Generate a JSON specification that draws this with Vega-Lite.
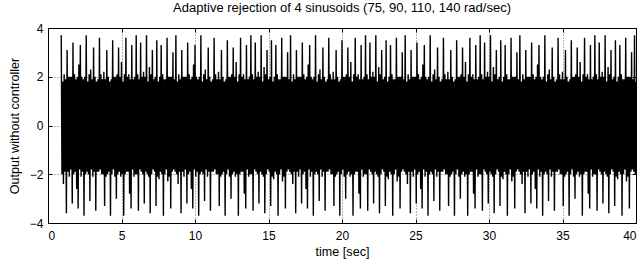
{
"$schema": "https://vega.github.io/schema/vega-lite/v6.json",
"width": 588, "height": 195,
"autosize": {"type": "none"},
"padding": {"left": 48, "top": 28, "right": 1, "bottom": 37},
"background": "white",
"title": {"text": "Adaptive rejection of 4 sinusoids (75, 90, 110, 140 rad/sec)", "font": "Liberation Sans", "fontSize": 13, "fontWeight": "normal", "color": "black", "offset": 7},
"config": {
  "view": {"stroke": "black", "strokeWidth": 1},
  "axis": {"labelFont": "Liberation Sans", "titleFont": "Liberation Sans", "labelFontSize": 12, "titleFontSize": 12.6, "titleFontWeight": "normal", "labelColor": "black", "titleColor": "black", "domain": false, "tickColor": "black", "tickSize": -4, "labelPadding": 9, "gridColor": "black", "gridDash": [1, 2], "gridOpacity": 0.6}
},
"data": {"values": [
{"t":0.9,"y":3.7},{"t":0.95,"y":-2},{"t":1,"y":1.8},{"t":1.05,"y":-2.4},{"t":1.1,"y":2.1},{"t":1.15,"y":-1.9},{"t":1.2,"y":1.9},{"t":1.25,"y":-3.6},{"t":1.3,"y":3.1},{"t":1.35,"y":-1.9},{"t":1.4,"y":2},{"t":1.45,"y":-2.1},{"t":1.5,"y":2},{"t":1.55,"y":-1.8},{"t":1.6,"y":2},{"t":1.65,"y":-3.2},{"t":1.7,"y":3.4},{"t":1.75,"y":-2},{"t":1.8,"y":2.1},{"t":1.85,"y":-1.9},{"t":1.9,"y":1.9},{"t":1.95,"y":-2.6},{"t":2,"y":2},{"t":2.05,"y":-3.4},{"t":2.1,"y":2.5},{"t":2.15,"y":-1.8},
{"t":2.2,"y":3.3},{"t":2.25,"y":-2.1},{"t":2.3,"y":2},{"t":2.35,"y":-1.9},{"t":2.4,"y":1.9},{"t":2.45,"y":-3.7},{"t":2.5,"y":2},{"t":2.55,"y":-2},{"t":2.6,"y":3.7},{"t":2.65,"y":-1.9},{"t":2.7,"y":1.8},{"t":2.75,"y":-2},{"t":2.8,"y":2.1},{"t":2.85,"y":-3.1},{"t":2.9,"y":2.3},{"t":2.95,"y":-1.8},{"t":3,"y":1.9},{"t":3.05,"y":-2.1},{"t":3.1,"y":3.2},{"t":3.15,"y":-1.9},{"t":3.2,"y":2},{"t":3.25,"y":-3.5},{"t":3.3,"y":1.8},{"t":3.35,"y":-1.9},{"t":3.4,"y":1.9},{"t":3.45,"y":-1.9},
{"t":3.5,"y":3.6},{"t":3.55,"y":-1.8},{"t":3.6,"y":2.1},{"t":3.65,"y":-2},{"t":3.7,"y":1.9},{"t":3.75,"y":-2},{"t":3.8,"y":2.2},{"t":3.85,"y":-3.3},{"t":3.9,"y":1.9},{"t":3.95,"y":-2.1},{"t":4,"y":3.1},{"t":4.05,"y":-2},{"t":4.1,"y":2},{"t":4.15,"y":-1.9},{"t":4.2,"y":1.8},{"t":4.25,"y":-3.7},{"t":4.3,"y":1.9},{"t":4.35,"y":-2},{"t":4.4,"y":3.5},{"t":4.45,"y":-1.8},{"t":4.5,"y":2},{"t":4.55,"y":-2.1},{"t":4.6,"y":2},{"t":4.65,"y":-3},{"t":4.7,"y":2.1},{"t":4.75,"y":-2},
{"t":4.8,"y":3.2},{"t":4.85,"y":-1.9},{"t":4.9,"y":2},{"t":4.95,"y":-2.1},{"t":5,"y":2.6},{"t":5.05,"y":-2},{"t":5.1,"y":1.8},{"t":5.15,"y":-3.7},{"t":5.2,"y":2.1},{"t":5.25,"y":-2},{"t":5.3,"y":3.6},{"t":5.35,"y":-1.9},{"t":5.4,"y":2},{"t":5.45,"y":-1.9},{"t":5.5,"y":2.1},{"t":5.55,"y":-2.8},{"t":5.6,"y":1.9},{"t":5.65,"y":-3.4},{"t":5.7,"y":3.3},{"t":5.75,"y":-1.8},{"t":5.8,"y":1.9},{"t":5.85,"y":-2.1},{"t":5.9,"y":2},{"t":5.95,"y":-2},{"t":6,"y":3.7},{"t":6.05,"y":-2},
{"t":6.1,"y":2.1},{"t":6.15,"y":-3.5},{"t":6.2,"y":1.9},{"t":6.25,"y":-1.8},{"t":6.3,"y":3.4},{"t":6.35,"y":-1.9},{"t":6.4,"y":2},{"t":6.45,"y":-2},{"t":6.5,"y":2.2},{"t":6.55,"y":-3.2},{"t":6.6,"y":2},{"t":6.65,"y":-1.9},{"t":6.7,"y":3.7},{"t":6.75,"y":-2},{"t":6.8,"y":1.8},{"t":6.85,"y":-2.1},{"t":6.9,"y":2.4},{"t":6.95,"y":-3.6},{"t":7,"y":2.1},{"t":7.05,"y":-2},{"t":7.1,"y":3.1},{"t":7.15,"y":-1.8},{"t":7.2,"y":1.9},{"t":7.25,"y":-1.9},{"t":7.3,"y":2},{"t":7.35,"y":-3.3},
{"t":7.4,"y":3.5},{"t":7.45,"y":-2.1},{"t":7.5,"y":1.8},{"t":7.55,"y":-2.2},{"t":7.6,"y":2},{"t":7.65,"y":-1.9},{"t":7.7,"y":3.3},{"t":7.75,"y":-2},{"t":7.8,"y":2.1},{"t":7.85,"y":-3.7},{"t":7.9,"y":1.9},{"t":7.95,"y":-2},{"t":8,"y":1.9},{"t":8.05,"y":-1.8},{"t":8.1,"y":3.6},{"t":8.15,"y":-2.3},{"t":8.2,"y":2},{"t":8.25,"y":-2.1},{"t":8.3,"y":2},{"t":8.35,"y":-3.4},{"t":8.4,"y":2},{"t":8.45,"y":-1.9},{"t":8.5,"y":3},{"t":8.55,"y":-1.8},{"t":8.6,"y":1.9},{"t":8.65,"y":-1.9},
{"t":8.7,"y":3.7},{"t":8.75,"y":-2},{"t":8.8,"y":1.8},{"t":8.85,"y":-2.4},{"t":8.9,"y":2.1},{"t":8.95,"y":-1.9},{"t":9,"y":1.9},{"t":9.05,"y":-3.6},{"t":9.1,"y":3.1},{"t":9.15,"y":-1.9},{"t":9.2,"y":2},{"t":9.25,"y":-2.1},{"t":9.3,"y":2},{"t":9.35,"y":-1.8},{"t":9.4,"y":2},{"t":9.45,"y":-3.2},{"t":9.5,"y":3.4},{"t":9.55,"y":-2},{"t":9.6,"y":2.1},{"t":9.65,"y":-1.9},{"t":9.7,"y":1.9},{"t":9.75,"y":-2.6},{"t":9.8,"y":2},{"t":9.85,"y":-3.4},{"t":9.9,"y":2.5},{"t":9.95,"y":-1.8},
{"t":10,"y":3.3},{"t":10.05,"y":-2.1},{"t":10.1,"y":2},{"t":10.15,"y":-1.9},{"t":10.2,"y":1.9},{"t":10.25,"y":-3.7},{"t":10.3,"y":2},{"t":10.35,"y":-2},{"t":10.4,"y":3.7},{"t":10.45,"y":-1.9},{"t":10.5,"y":1.8},{"t":10.55,"y":-2},{"t":10.6,"y":2.1},{"t":10.65,"y":-3.1},{"t":10.7,"y":2.3},{"t":10.75,"y":-1.8},{"t":10.8,"y":1.9},{"t":10.85,"y":-2.1},{"t":10.9,"y":3.2},{"t":10.95,"y":-1.9},{"t":11,"y":2},{"t":11.05,"y":-3.5},{"t":11.1,"y":1.8},{"t":11.15,"y":-1.9},{"t":11.2,"y":1.9},{"t":11.25,"y":-1.9},
{"t":11.3,"y":3.6},{"t":11.35,"y":-1.8},{"t":11.4,"y":2.1},{"t":11.45,"y":-2},{"t":11.5,"y":1.9},{"t":11.55,"y":-2},{"t":11.6,"y":2.2},{"t":11.65,"y":-3.3},{"t":11.7,"y":1.9},{"t":11.75,"y":-2.1},{"t":11.8,"y":3.1},{"t":11.85,"y":-2},{"t":11.9,"y":2},{"t":11.95,"y":-1.9},{"t":12,"y":1.8},{"t":12.05,"y":-3.7},{"t":12.1,"y":1.9},{"t":12.15,"y":-2},{"t":12.2,"y":3.5},{"t":12.25,"y":-1.8},{"t":12.3,"y":2},{"t":12.35,"y":-2.1},{"t":12.4,"y":2},{"t":12.45,"y":-3},{"t":12.5,"y":2.1},{"t":12.55,"y":-2},
{"t":12.6,"y":3.2},{"t":12.65,"y":-1.9},{"t":12.7,"y":2},{"t":12.75,"y":-2.1},{"t":12.8,"y":2.6},{"t":12.85,"y":-2},{"t":12.9,"y":1.8},{"t":12.95,"y":-3.7},{"t":13,"y":2.1},{"t":13.05,"y":-2},{"t":13.1,"y":3.6},{"t":13.15,"y":-1.9},{"t":13.2,"y":2},{"t":13.25,"y":-1.9},{"t":13.3,"y":2.1},{"t":13.35,"y":-2.8},{"t":13.4,"y":1.9},{"t":13.45,"y":-3.4},{"t":13.5,"y":3.3},{"t":13.55,"y":-1.8},{"t":13.6,"y":1.9},{"t":13.65,"y":-2.1},{"t":13.7,"y":2},{"t":13.75,"y":-2},{"t":13.8,"y":3.7},{"t":13.85,"y":-2},
{"t":13.9,"y":2.1},{"t":13.95,"y":-3.5},{"t":14,"y":1.9},{"t":14.05,"y":-1.8},{"t":14.1,"y":3.4},{"t":14.15,"y":-1.9},{"t":14.2,"y":2},{"t":14.25,"y":-2},{"t":14.3,"y":2.2},{"t":14.35,"y":-3.2},{"t":14.4,"y":2},{"t":14.45,"y":-1.9},{"t":14.5,"y":3.7},{"t":14.55,"y":-2},{"t":14.6,"y":1.8},{"t":14.65,"y":-2.1},{"t":14.7,"y":2.4},{"t":14.75,"y":-3.6},{"t":14.8,"y":2.1},{"t":14.85,"y":-2},{"t":14.9,"y":3.1},{"t":14.95,"y":-1.8},{"t":15,"y":1.9},{"t":15.05,"y":-1.9},{"t":15.1,"y":2},{"t":15.15,"y":-3.3},
{"t":15.2,"y":3.5},{"t":15.25,"y":-2.1},{"t":15.3,"y":1.8},{"t":15.35,"y":-2.2},{"t":15.4,"y":2},{"t":15.45,"y":-1.9},{"t":15.5,"y":3.3},{"t":15.55,"y":-2},{"t":15.6,"y":2.1},{"t":15.65,"y":-3.7},{"t":15.7,"y":1.9},{"t":15.75,"y":-2},{"t":15.8,"y":1.9},{"t":15.85,"y":-1.8},{"t":15.9,"y":3.6},{"t":15.95,"y":-2.3},{"t":16,"y":2},{"t":16.05,"y":-2.1},{"t":16.1,"y":2},{"t":16.15,"y":-3.4},{"t":16.2,"y":2},{"t":16.25,"y":-1.9},{"t":16.3,"y":3},{"t":16.35,"y":-1.8},{"t":16.4,"y":1.9},{"t":16.45,"y":-1.9},
{"t":16.5,"y":3.7},{"t":16.55,"y":-2},{"t":16.6,"y":1.8},{"t":16.65,"y":-2.4},{"t":16.7,"y":2.1},{"t":16.75,"y":-1.9},{"t":16.8,"y":1.9},{"t":16.85,"y":-3.6},{"t":16.9,"y":3.1},{"t":16.95,"y":-1.9},{"t":17,"y":2},{"t":17.05,"y":-2.1},{"t":17.1,"y":2},{"t":17.15,"y":-1.8},{"t":17.2,"y":2},{"t":17.25,"y":-3.2},{"t":17.3,"y":3.4},{"t":17.35,"y":-2},{"t":17.4,"y":2.1},{"t":17.45,"y":-1.9},{"t":17.5,"y":1.9},{"t":17.55,"y":-2.6},{"t":17.6,"y":2},{"t":17.65,"y":-3.4},{"t":17.7,"y":2.5},{"t":17.75,"y":-1.8},
{"t":17.8,"y":3.3},{"t":17.85,"y":-2.1},{"t":17.9,"y":2},{"t":17.95,"y":-1.9},{"t":18,"y":1.9},{"t":18.05,"y":-3.7},{"t":18.1,"y":2},{"t":18.15,"y":-2},{"t":18.2,"y":3.7},{"t":18.25,"y":-1.9},{"t":18.3,"y":1.8},{"t":18.35,"y":-2},{"t":18.4,"y":2.1},{"t":18.45,"y":-3.1},{"t":18.5,"y":2.3},{"t":18.55,"y":-1.8},{"t":18.6,"y":1.9},{"t":18.65,"y":-2.1},{"t":18.7,"y":3.2},{"t":18.75,"y":-1.9},{"t":18.8,"y":2},{"t":18.85,"y":-3.5},{"t":18.9,"y":1.8},{"t":18.95,"y":-1.9},{"t":19,"y":1.9},{"t":19.05,"y":-1.9},
{"t":19.1,"y":3.6},{"t":19.15,"y":-1.8},{"t":19.2,"y":2.1},{"t":19.25,"y":-2},{"t":19.3,"y":1.9},{"t":19.35,"y":-2},{"t":19.4,"y":2.2},{"t":19.45,"y":-3.3},{"t":19.5,"y":1.9},{"t":19.55,"y":-2.1},{"t":19.6,"y":3.1},{"t":19.65,"y":-2},{"t":19.7,"y":2},{"t":19.75,"y":-1.9},{"t":19.8,"y":1.8},{"t":19.85,"y":-3.7},{"t":19.9,"y":1.9},{"t":19.95,"y":-2},{"t":20,"y":3.5},{"t":20.05,"y":-1.8},{"t":20.1,"y":2},{"t":20.15,"y":-2.1},{"t":20.2,"y":2},{"t":20.25,"y":-3},{"t":20.3,"y":2.1},{"t":20.35,"y":-2},
{"t":20.4,"y":3.2},{"t":20.45,"y":-1.9},{"t":20.5,"y":2},{"t":20.55,"y":-2.1},{"t":20.6,"y":2.6},{"t":20.65,"y":-2},{"t":20.7,"y":1.8},{"t":20.75,"y":-3.7},{"t":20.8,"y":2.1},{"t":20.85,"y":-2},{"t":20.9,"y":3.6},{"t":20.95,"y":-1.9},{"t":21,"y":2},{"t":21.05,"y":-1.9},{"t":21.1,"y":2.1},{"t":21.15,"y":-2.8},{"t":21.2,"y":1.9},{"t":21.25,"y":-3.4},{"t":21.3,"y":3.3},{"t":21.35,"y":-1.8},{"t":21.4,"y":1.9},{"t":21.45,"y":-2.1},{"t":21.5,"y":2},{"t":21.55,"y":-2},{"t":21.6,"y":3.7},{"t":21.65,"y":-2},
{"t":21.7,"y":2.1},{"t":21.75,"y":-3.5},{"t":21.8,"y":1.9},{"t":21.85,"y":-1.8},{"t":21.9,"y":3.4},{"t":21.95,"y":-1.9},{"t":22,"y":2},{"t":22.05,"y":-2},{"t":22.1,"y":2.2},{"t":22.15,"y":-3.2},{"t":22.2,"y":2},{"t":22.25,"y":-1.9},{"t":22.3,"y":3.7},{"t":22.35,"y":-2},{"t":22.4,"y":1.8},{"t":22.45,"y":-2.1},{"t":22.5,"y":2.4},{"t":22.55,"y":-3.6},{"t":22.6,"y":2.1},{"t":22.65,"y":-2},{"t":22.7,"y":3.1},{"t":22.75,"y":-1.8},{"t":22.8,"y":1.9},{"t":22.85,"y":-1.9},{"t":22.9,"y":2},{"t":22.95,"y":-3.3},
{"t":23,"y":3.5},{"t":23.05,"y":-2.1},{"t":23.1,"y":1.8},{"t":23.15,"y":-2.2},{"t":23.2,"y":2},{"t":23.25,"y":-1.9},{"t":23.3,"y":3.3},{"t":23.35,"y":-2},{"t":23.4,"y":2.1},{"t":23.45,"y":-3.7},{"t":23.5,"y":1.9},{"t":23.55,"y":-2},{"t":23.6,"y":1.9},{"t":23.65,"y":-1.8},{"t":23.7,"y":3.6},{"t":23.75,"y":-2.3},{"t":23.8,"y":2},{"t":23.85,"y":-2.1},{"t":23.9,"y":2},{"t":23.95,"y":-3.4},{"t":24,"y":2},{"t":24.05,"y":-1.9},{"t":24.1,"y":3},{"t":24.15,"y":-1.8},{"t":24.2,"y":1.9},{"t":24.25,"y":-1.9},
{"t":24.3,"y":3.7},{"t":24.35,"y":-2},{"t":24.4,"y":1.8},{"t":24.45,"y":-2.4},{"t":24.5,"y":2.1},{"t":24.55,"y":-1.9},{"t":24.6,"y":1.9},{"t":24.65,"y":-3.6},{"t":24.7,"y":3.1},{"t":24.75,"y":-1.9},{"t":24.8,"y":2},{"t":24.85,"y":-2.1},{"t":24.9,"y":2},{"t":24.95,"y":-1.8},{"t":25,"y":2},{"t":25.05,"y":-3.2},{"t":25.1,"y":3.4},{"t":25.15,"y":-2},{"t":25.2,"y":2.1},{"t":25.25,"y":-1.9},{"t":25.3,"y":1.9},{"t":25.35,"y":-2.6},{"t":25.4,"y":2},{"t":25.45,"y":-3.4},{"t":25.5,"y":2.5},{"t":25.55,"y":-1.8},
{"t":25.6,"y":3.3},{"t":25.65,"y":-2.1},{"t":25.7,"y":2},{"t":25.75,"y":-1.9},{"t":25.8,"y":1.9},{"t":25.85,"y":-3.7},{"t":25.9,"y":2},{"t":25.95,"y":-2},{"t":26,"y":3.7},{"t":26.05,"y":-1.9},{"t":26.1,"y":1.8},{"t":26.15,"y":-2},{"t":26.2,"y":2.1},{"t":26.25,"y":-3.1},{"t":26.3,"y":2.3},{"t":26.35,"y":-1.8},{"t":26.4,"y":1.9},{"t":26.45,"y":-2.1},{"t":26.5,"y":3.2},{"t":26.55,"y":-1.9},{"t":26.6,"y":2},{"t":26.65,"y":-3.5},{"t":26.7,"y":1.8},{"t":26.75,"y":-1.9},{"t":26.8,"y":1.9},{"t":26.85,"y":-1.9},
{"t":26.9,"y":3.6},{"t":26.95,"y":-1.8},{"t":27,"y":2.1},{"t":27.05,"y":-2},{"t":27.1,"y":1.9},{"t":27.15,"y":-2},{"t":27.2,"y":2.2},{"t":27.25,"y":-3.3},{"t":27.3,"y":1.9},{"t":27.35,"y":-2.1},{"t":27.4,"y":3.1},{"t":27.45,"y":-2},{"t":27.5,"y":2},{"t":27.55,"y":-1.9},{"t":27.6,"y":1.8},{"t":27.65,"y":-3.7},{"t":27.7,"y":1.9},{"t":27.75,"y":-2},{"t":27.8,"y":3.5},{"t":27.85,"y":-1.8},{"t":27.9,"y":2},{"t":27.95,"y":-2.1},{"t":28,"y":2},{"t":28.05,"y":-3},{"t":28.1,"y":2.1},{"t":28.15,"y":-2},
{"t":28.2,"y":3.2},{"t":28.25,"y":-1.9},{"t":28.3,"y":2},{"t":28.35,"y":-2.1},{"t":28.4,"y":2.6},{"t":28.45,"y":-2},{"t":28.5,"y":1.8},{"t":28.55,"y":-3.7},{"t":28.6,"y":2.1},{"t":28.65,"y":-2},{"t":28.7,"y":3.6},{"t":28.75,"y":-1.9},{"t":28.8,"y":2},{"t":28.85,"y":-1.9},{"t":28.9,"y":2.1},{"t":28.95,"y":-2.8},{"t":29,"y":1.9},{"t":29.05,"y":-3.4},{"t":29.1,"y":3.3},{"t":29.15,"y":-1.8},{"t":29.2,"y":1.9},{"t":29.25,"y":-2.1},{"t":29.3,"y":2},{"t":29.35,"y":-2},{"t":29.4,"y":3.7},{"t":29.45,"y":-2},
{"t":29.5,"y":2.1},{"t":29.55,"y":-3.5},{"t":29.6,"y":1.9},{"t":29.65,"y":-1.8},{"t":29.7,"y":3.4},{"t":29.75,"y":-1.9},{"t":29.8,"y":2},{"t":29.85,"y":-2},{"t":29.9,"y":2.2},{"t":29.95,"y":-3.2},{"t":30,"y":2},{"t":30.05,"y":-1.9},{"t":30.1,"y":3.7},{"t":30.15,"y":-2},{"t":30.2,"y":1.8},{"t":30.25,"y":-2.1},{"t":30.3,"y":2.4},{"t":30.35,"y":-3.6},{"t":30.4,"y":2.1},{"t":30.45,"y":-2},{"t":30.5,"y":3.1},{"t":30.55,"y":-1.8},{"t":30.6,"y":1.9},{"t":30.65,"y":-1.9},{"t":30.7,"y":2},{"t":30.75,"y":-3.3},
{"t":30.8,"y":3.5},{"t":30.85,"y":-2.1},{"t":30.9,"y":1.8},{"t":30.95,"y":-2.2},{"t":31,"y":2},{"t":31.05,"y":-1.9},{"t":31.1,"y":3.3},{"t":31.15,"y":-2},{"t":31.2,"y":2.1},{"t":31.25,"y":-3.7},{"t":31.3,"y":1.9},{"t":31.35,"y":-2},{"t":31.4,"y":1.9},{"t":31.45,"y":-1.8},{"t":31.5,"y":3.6},{"t":31.55,"y":-2.3},{"t":31.6,"y":2},{"t":31.65,"y":-2.1},{"t":31.7,"y":2},{"t":31.75,"y":-3.4},{"t":31.8,"y":2},{"t":31.85,"y":-1.9},{"t":31.9,"y":3},{"t":31.95,"y":-1.8},{"t":32,"y":1.9},{"t":32.05,"y":-1.9},
{"t":32.1,"y":3.7},{"t":32.15,"y":-2},{"t":32.2,"y":1.8},{"t":32.25,"y":-2.4},{"t":32.3,"y":2.1},{"t":32.35,"y":-1.9},{"t":32.4,"y":1.9},{"t":32.45,"y":-3.6},{"t":32.5,"y":3.1},{"t":32.55,"y":-1.9},{"t":32.6,"y":2},{"t":32.65,"y":-2.1},{"t":32.7,"y":2},{"t":32.75,"y":-1.8},{"t":32.8,"y":2},{"t":32.85,"y":-3.2},{"t":32.9,"y":3.4},{"t":32.95,"y":-2},{"t":33,"y":2.1},{"t":33.05,"y":-1.9},{"t":33.1,"y":1.9},{"t":33.15,"y":-2.6},{"t":33.2,"y":2},{"t":33.25,"y":-3.4},{"t":33.3,"y":2.5},{"t":33.35,"y":-1.8},
{"t":33.4,"y":3.3},{"t":33.45,"y":-2.1},{"t":33.5,"y":2},{"t":33.55,"y":-1.9},{"t":33.6,"y":1.9},{"t":33.65,"y":-3.7},{"t":33.7,"y":2},{"t":33.75,"y":-2},{"t":33.8,"y":3.7},{"t":33.85,"y":-1.9},{"t":33.9,"y":1.8},{"t":33.95,"y":-2},{"t":34,"y":2.1},{"t":34.05,"y":-3.1},{"t":34.1,"y":2.3},{"t":34.15,"y":-1.8},{"t":34.2,"y":1.9},{"t":34.25,"y":-2.1},{"t":34.3,"y":3.2},{"t":34.35,"y":-1.9},{"t":34.4,"y":2},{"t":34.45,"y":-3.5},{"t":34.5,"y":1.8},{"t":34.55,"y":-1.9},{"t":34.6,"y":1.9},{"t":34.65,"y":-1.9},
{"t":34.7,"y":3.6},{"t":34.75,"y":-1.8},{"t":34.8,"y":2.1},{"t":34.85,"y":-2},{"t":34.9,"y":1.9},{"t":34.95,"y":-2},{"t":35,"y":2.2},{"t":35.05,"y":-3.3},{"t":35.1,"y":1.9},{"t":35.15,"y":-2.1},{"t":35.2,"y":3.1},{"t":35.25,"y":-2},{"t":35.3,"y":2},{"t":35.35,"y":-1.9},{"t":35.4,"y":1.8},{"t":35.45,"y":-3.7},{"t":35.5,"y":1.9},{"t":35.55,"y":-2},{"t":35.6,"y":3.5},{"t":35.65,"y":-1.8},{"t":35.7,"y":2},{"t":35.75,"y":-2.1},{"t":35.8,"y":2},{"t":35.85,"y":-3},{"t":35.9,"y":2.1},{"t":35.95,"y":-2},
{"t":36,"y":3.2},{"t":36.05,"y":-1.9},{"t":36.1,"y":2},{"t":36.15,"y":-2.1},{"t":36.2,"y":2.6},{"t":36.25,"y":-2},{"t":36.3,"y":1.8},{"t":36.35,"y":-3.7},{"t":36.4,"y":2.1},{"t":36.45,"y":-2},{"t":36.5,"y":3.6},{"t":36.55,"y":-1.9},{"t":36.6,"y":2},{"t":36.65,"y":-1.9},{"t":36.7,"y":2.1},{"t":36.75,"y":-2.8},{"t":36.8,"y":1.9},{"t":36.85,"y":-3.4},{"t":36.9,"y":3.3},{"t":36.95,"y":-1.8},{"t":37,"y":1.9},{"t":37.05,"y":-2.1},{"t":37.1,"y":2},{"t":37.15,"y":-2},{"t":37.2,"y":3.7},{"t":37.25,"y":-2},
{"t":37.3,"y":2.1},{"t":37.35,"y":-3.5},{"t":37.4,"y":1.9},{"t":37.45,"y":-1.8},{"t":37.5,"y":3.4},{"t":37.55,"y":-1.9},{"t":37.6,"y":2},{"t":37.65,"y":-2},{"t":37.7,"y":2.2},{"t":37.75,"y":-3.2},{"t":37.8,"y":2},{"t":37.85,"y":-1.9},{"t":37.9,"y":3.7},{"t":37.95,"y":-2},{"t":38,"y":1.8},{"t":38.05,"y":-2.1},{"t":38.1,"y":2.4},{"t":38.15,"y":-3.6},{"t":38.2,"y":2.1},{"t":38.25,"y":-2},{"t":38.3,"y":3.1},{"t":38.35,"y":-1.8},{"t":38.4,"y":1.9},{"t":38.45,"y":-1.9},{"t":38.5,"y":2},{"t":38.55,"y":-3.3},
{"t":38.6,"y":3.5},{"t":38.65,"y":-2.1},{"t":38.7,"y":1.8},{"t":38.75,"y":-2.2},{"t":38.8,"y":2},{"t":38.85,"y":-1.9},{"t":38.9,"y":3.3},{"t":38.95,"y":-2},{"t":39,"y":2.1},{"t":39.05,"y":-3.7},{"t":39.1,"y":1.9},{"t":39.15,"y":-2},{"t":39.2,"y":1.9},{"t":39.25,"y":-1.8},{"t":39.3,"y":3.6},{"t":39.35,"y":-2.3},{"t":39.4,"y":2},{"t":39.45,"y":-2.1},{"t":39.5,"y":2},{"t":39.55,"y":-3.4},{"t":39.6,"y":2},{"t":39.65,"y":-1.9},{"t":39.7,"y":3},{"t":39.75,"y":-1.8},{"t":39.8,"y":1.9},{"t":39.85,"y":-1.9},
{"t":39.9,"y":3.7},{"t":39.95,"y":-2},{"t":40,"y":1.8}
]},
"layer": [
  {
    "mark": {"type": "line", "color": "black", "strokeWidth": 1.4, "clip": true},
    "encoding": {
      "x": {"field": "t", "type": "quantitative", "scale": {"domain": [0, 40], "nice": false}, "axis": {"title": "time [sec]", "values": [0, 5, 10, 15, 20, 25, 30, 35, 40], "grid": true, "labelPadding": 11, "titlePadding": 4}},
      "y": {"field": "y", "type": "quantitative", "scale": {"domain": [-4, 4], "nice": false}, "axis": {"title": "Output without controller", "values": [-4, -2, 0, 2, 4], "grid": true, "titlePadding": 8}}
    }
  },
  {
    "mark": {"type": "point", "opacity": 0},
    "encoding": {
      "x": {"field": "t", "type": "quantitative", "axis": {"orient": "top", "labels": false, "title": null, "grid": false, "values": [0, 5, 10, 15, 20, 25, 30, 35, 40]}},
      "y": {"field": "y", "type": "quantitative", "axis": {"orient": "right", "labels": false, "title": null, "grid": false, "values": [-4, -2, 0, 2, 4]}}
    }
  }
],
"resolve": {"axis": {"x": "independent", "y": "independent"}}
}
